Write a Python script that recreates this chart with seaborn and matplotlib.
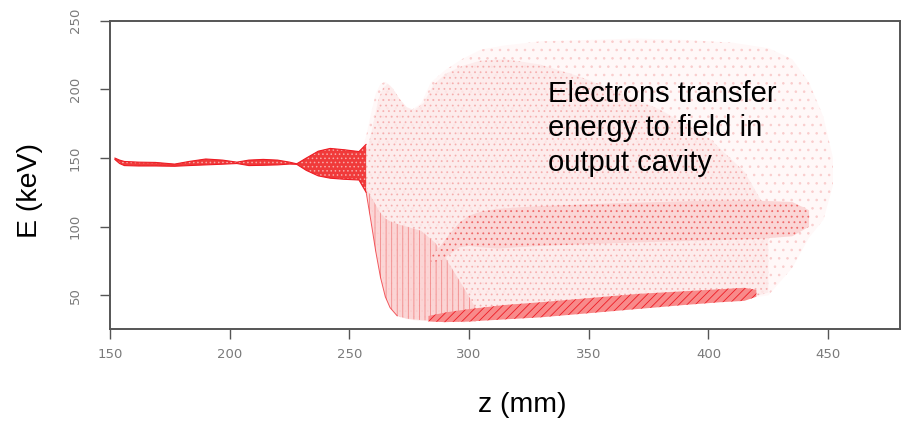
import matplotlib
matplotlib.use("Agg")
import matplotlib.pyplot as plt
import seaborn as sns
import pandas as pd

# Beam before the output cavity: energy band vs axial position
beam_z  = [152, 154, 156, 162, 169, 177, 183, 190, 197, 203, 208, 214, 220, 225, 228, 232, 237, 242, 248, 254, 257]
beam_hi = [150, 148.5, 147.5, 147, 146.8, 145.6, 147.5, 149.3, 148.5, 147, 148.5, 149, 148.5, 147, 145.8, 150, 155, 157, 156, 154.7, 160]
beam_lo = [149, 146, 144.5, 144.2, 144.2, 144, 144.5, 145, 145.5, 146, 144.5, 144.7, 145, 145.6, 145.4, 141, 137, 135.3, 134.5, 134, 125]

# Outer envelope of the scattered electrons in the output cavity
halo_z  = [255, 257, 259, 261, 263, 265, 267, 270, 273, 276, 280, 284, 290, 297, 305, 315, 330, 350, 370, 390, 410, 425, 435, 442, 448, 452]
halo_hi = [155, 166, 182, 197, 204, 205.5, 203, 195, 188, 185, 190, 205, 214, 222, 229, 232, 235, 236, 237, 236, 234, 230, 222, 205, 180, 150]
halo_lo = [134, 125, 104, 82, 63, 49, 41, 35, 33, 32, 31.5, 31, 30.5, 31, 32, 34, 36, 40, 42, 44, 46, 50, 70, 92, 105, 130]

# Denser core of the scattered electrons
core_z  = [256, 258, 260, 262, 264, 266, 268, 271, 274, 277, 281, 285, 290, 297, 305, 315, 330, 345, 360, 380, 400, 415, 425]
core_hi = [150, 160, 175, 192, 201, 204, 201, 193, 187, 185, 190, 203, 211, 217, 221, 222, 218, 210, 200, 185, 165, 140, 110]
core_lo = [134, 125, 104, 82, 63, 49, 41, 35, 33, 32, 31.5, 31, 30.5, 31, 32, 34, 36, 39, 41, 43, 45, 47, 52]

# Striated wall where the bunch is decelerated hardest
wall_z  = [257, 259, 261, 263, 265, 267, 270, 274, 280, 286, 292, 298, 303]
wall_hi = [128, 122, 116, 110, 106, 104, 102, 100, 97, 88, 72, 55, 40]
wall_lo = [125, 104, 82, 63, 49, 41, 35, 33, 32, 31.5, 31, 30.5, 31]

# Middle energy branch
mid_z  = [284, 288, 292, 296, 300, 305, 312, 320, 330, 345, 360, 380, 400, 420, 435, 442]
mid_hi = [78, 86, 95, 103, 108, 111, 113, 114, 115, 116, 117, 118, 119, 119, 118, 112]
mid_lo = [74, 75, 80, 85, 86, 85, 84, 85, 86, 87, 88, 89, 90, 91, 93, 100]

# Slow electrons at the bottom of the distribution
low_z  = [283, 290, 300, 315, 330, 350, 370, 390, 405, 415, 420]
low_hi = [35, 37.5, 40, 43, 45, 48, 51, 53, 54.5, 55.5, 54]
low_lo = [31, 30.5, 31, 32.5, 34, 37, 40, 43, 45, 46, 49]

x_ticks = [150, 200, 250, 300, 350, 400, 450]
y_ticks = [50, 100, 150, 200, 250]

sns.set_style("white")
plt.rcParams["font.family"] = ["Liberation Sans", "DejaVu Sans"]
plt.rcParams["hatch.linewidth"] = 0.6

W, H = 907, 421
fig = plt.figure(figsize=(W / 100, H / 100), dpi=100)
ax = fig.add_axes([110 / W, (H - 329) / H, 790 / W, (329 - 20.7) / H])

red = "#ee1c24"

def band(z, hi, lo, face, hatch_col, hatch, alpha=1.0, z_order=2):
    ax.fill_between(z, lo, hi, facecolor=face, edgecolor=hatch_col,
                    hatch=hatch, linewidth=0, alpha=alpha, zorder=z_order)

band(halo_z, halo_hi, halo_lo, "#fff8f8", "#f9cccc", "..", z_order=1)
band(core_z, core_hi, core_lo, "#fdeaea", "#f5a8a8", "...", alpha=0.8, z_order=2)
band(wall_z, wall_hi, wall_lo, "#fbd2d2", "#f07c7c", "|||", alpha=0.85, z_order=3)
band(mid_z, mid_hi, mid_lo, "#fbd6d6", "#ef6a6a", "...", z_order=4)
band(low_z, low_hi, low_lo, "#f88a8a", red, "////", z_order=5)
band(beam_z, beam_hi, beam_lo, "#f03a3a", "#f7a8a8", "....", z_order=6)

edges = pd.DataFrame({
    "z": beam_z + beam_z,
    "E": beam_hi + beam_lo,
    "edge": ["hi"] * len(beam_z) + ["lo"] * len(beam_z),
})
sns.lineplot(data=edges, x="z", y="E", units="edge", estimator=None,
             color=red, linewidth=0.8, ax=ax, zorder=7, sort=False)
sns.lineplot(x=wall_z[:7], y=wall_lo[:7], color=red, linewidth=0.7,
             ax=ax, zorder=7, sort=False, alpha=0.7)

ax.set_xlim(150, 480)
ax.set_ylim(25.5, 250)
ax.set_xticks(x_ticks)
ax.set_yticks(y_ticks)
ax.set_xticklabels([str(t) for t in x_ticks])
ax.set_yticklabels([str(t) for t in y_ticks], rotation=90, va="center")
ax.set_xlabel("")
ax.set_ylabel("")
for s in ax.spines.values():
    s.set_visible(True)
    s.set_color("#555555")
    s.set_linewidth(1.4)
ax.tick_params(axis="both", which="both", direction="out", length=7.5,
               width=1.0, color="#555555", labelcolor="#7a7a7a",
               labelsize=9.5, bottom=True, left=True)
ax.tick_params(axis="x", pad=6)
ax.tick_params(axis="y", pad=13)
for lab in ax.get_xticklabels() + ax.get_yticklabels():
    lab.set_family("DejaVu Sans")

def px(x, y):
    return x / W, 1 - y / H

fig.text(*px(522, 412), "z (mm)", fontsize=20.5, ha="center", va="baseline", color="black")
fig.text(*px(30, 191), "E (keV)", fontsize=20.5, rotation=90, ha="center", va="center", color="black")
for i, line in enumerate(["Electrons transfer", "energy to field in", "output cavity"]):
    fig.text(*px(548, 101.7 + 34.5 * i), line, fontsize=21, ha="left", va="baseline", color="black")

fig.savefig("out.png", dpi=100)
